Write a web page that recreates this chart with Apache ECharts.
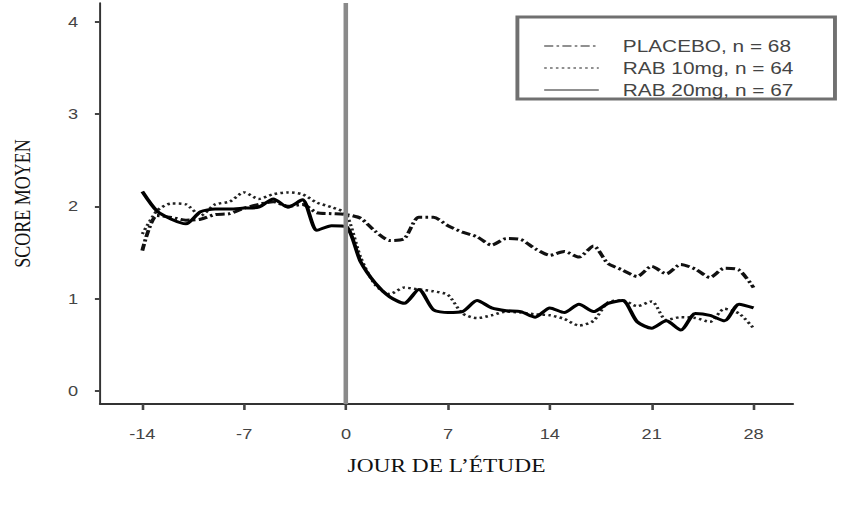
<!DOCTYPE html>
<html>
<head>
<meta charset="utf-8">
<script src="https://cdn.jsdelivr.net/npm/echarts@6/dist/echarts.min.js"></script>
<style>
html,body{margin:0;padding:0;background:#fff;overflow:hidden;}
#wrap{width:849px;height:508px;overflow:hidden;}
/* the reference picture is horizontally stretched; reproduce that stretch */
#chart{width:653px;height:508px;transform:scaleX(1.3);transform-origin:0 0;}
</style>
</head>
<body>
<div id="wrap"><div id="chart"></div></div>
<script>
// Study day for each sample
const days = [-14,-13,-12,-11,-10,-9,-8,-7,-6,-5,-4,-3,-2,-1,0,1,2,3,4,5,6,7,8,9,10,11,12,13,14,15,16,17,18,19,20,21,22,23,24,25,26,27,28];

const placebo = [1.52,1.90,1.88,1.85,1.86,1.91,1.92,1.98,2.02,2.05,2.00,2.02,1.93,1.92,1.91,1.87,1.73,1.63,1.65,1.88,1.88,1.79,1.72,1.67,1.58,1.65,1.64,1.54,1.47,1.51,1.45,1.57,1.38,1.31,1.24,1.35,1.27,1.37,1.32,1.23,1.33,1.31,1.12];

const rab10 = [1.70,1.95,2.03,2.02,1.90,2.02,2.05,2.15,2.08,2.13,2.15,2.13,2.04,1.99,1.92,1.45,1.15,1.05,1.12,1.10,1.08,1.04,0.84,0.79,0.82,0.86,0.85,0.83,0.82,0.78,0.71,0.76,0.96,0.98,0.92,0.97,0.77,0.80,0.79,0.75,0.89,0.84,0.68];

const rab20 = [2.16,1.95,1.86,1.81,1.94,1.97,1.97,1.98,1.99,2.08,1.99,2.07,1.74,1.79,1.78,1.40,1.17,1.02,0.95,1.10,0.88,0.85,0.86,0.98,0.90,0.87,0.86,0.80,0.90,0.85,0.94,0.86,0.95,0.98,0.75,0.68,0.76,0.66,0.84,0.82,0.76,0.94,0.90];

const seriesNames = ['PLACEBO, n = 68', 'RAB 10mg, n = 64', 'RAB 20mg, n = 67'];
const xTicks = [-14,-7,0,7,14,21,28];
const yTicks = [0,1,2,3,4];

const pair = arr => days.map((d,i) => [d, arr[i]]);

const chart = echarts.init(document.getElementById('chart'), null, {renderer: 'svg'});
const axisCol = '#333';
chart.setOption({
  animation: false,
  backgroundColor: '#fff',
  grid: {left: 75.4, right: 43.1, top: 3, bottom: 104},
  legend: {
    orient: 'vertical',
    left: 398, top: 17,
    padding: [21, 32, 1, 20],
    itemWidth: 42, itemHeight: 16, itemGap: 6,
    borderColor: '#707070', borderWidth: 3,
    backgroundColor: '#fff',
    itemStyle: {opacity: 0},
    lineStyle: {width: 1.2, color: '#222'},
    textStyle: {fontFamily: 'Liberation Sans, Arial', fontSize: 16, color: '#444', padding: [0,0,0,13.5]},
    data: seriesNames
  },
  xAxis: {
    type: 'value', min: -16.9, max: 30.7,
    name: 'JOUR DE L\u2019ÉTUDE', nameLocation: 'middle', nameGap: 53,
    nameTextStyle: {fontFamily: 'Liberation Serif, Times New Roman', fontSize: 18, color: '#111'},
    axisLine: {onZero: false, lineStyle: {color: axisCol, width: 2}},
    axisTick: {customValues: xTicks, length: 6, lineStyle: {color: '#444', width: 2}},
    axisLabel: {customValues: xTicks, margin: 23, fontFamily: 'Liberation Sans, Arial', fontSize: 14, color: '#444'},
    splitLine: {show: false}
  },
  yAxis: {
    type: 'value', min: -0.14, max: 4.2,
    name: 'SCORE MOYEN', nameLocation: 'middle', nameGap: 51, nameRotate: 90,
    nameTextStyle: {fontFamily: 'Liberation Serif, Times New Roman', fontSize: 18, color: '#111'},
    axisLine: {show: true, onZero: false, lineStyle: {color: axisCol, width: 1.5}},
    axisTick: {show: true, customValues: yTicks, length: 4, lineStyle: {color: '#444', width: 2}},
    axisLabel: {customValues: yTicks, margin: 17, fontFamily: 'Liberation Sans, Arial', fontSize: 14, color: '#444'},
    splitLine: {show: false}
  },
  series: [
    {
      name: seriesNames[0], type: 'line', data: pair(placebo), showSymbol: false, symbol: 'none', smooth: 0.25,
      itemStyle: {color: '#111'},
      lineStyle: {color: '#111', width: 3, type: [7, 2.5, 2, 2.5]}, z: 3,
      markLine: {
        silent: true, symbol: ['none','none'], label: {show: false},
        lineStyle: {color: '#8a8a8a', width: 3.5, type: 'solid'},
        data: [{xAxis: 0}]
      }
    },
    {
      name: seriesNames[1], type: 'line', data: pair(rab10), showSymbol: false, symbol: 'none', smooth: 0.25,
      itemStyle: {color: '#222'},
      lineStyle: {color: '#222', width: 2.5, type: [2, 2.5]}, z: 3
    },
    {
      name: seriesNames[2], type: 'line', data: pair(rab20), showSymbol: false, symbol: 'none', smooth: 0.25,
      itemStyle: {color: '#000'},
      lineStyle: {color: '#000', width: 3, type: 'solid'}, z: 4
    }
  ]
});
</script>
</body>
</html>
